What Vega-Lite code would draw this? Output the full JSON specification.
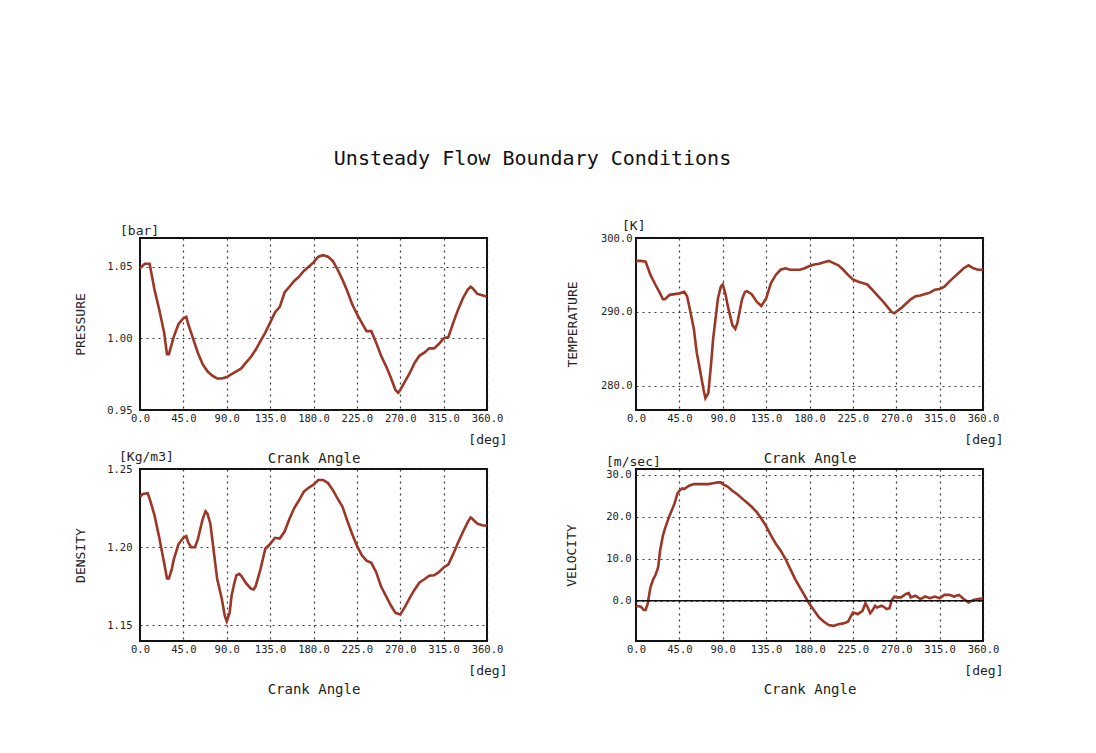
{
  "$schema": "https://vega.github.io/schema/vega-lite/v6.json",
  "background": "white",
  "padding": {"left": 73, "top": 149, "right": 10, "bottom": 10},
  "title": {"text": "Unsteady Flow Boundary Conditions", "fontSize": 20, "font": "DejaVu Sans Mono", "fontWeight": "normal", "color": "#111", "anchor": "middle", "offset": 50, "dx": -6},
  "datasets": {
    "pressure": [
      {"a":0,"v":1.049},{"a":5,"v":1.052},{"a":10,"v":1.052},{"a":15,"v":1.034},{"a":20,"v":1.020},{"a":25,"v":1.004},{"a":28,"v":0.989},{"a":30,"v":0.989},{"a":35,"v":1.001},{"a":40,"v":1.010},{"a":45,"v":1.014},{"a":48,"v":1.015},{"a":50,"v":1.010},{"a":55,"v":1.000},{"a":60,"v":0.990},{"a":65,"v":0.982},{"a":70,"v":0.977},{"a":75,"v":0.974},{"a":80,"v":0.972},{"a":85,"v":0.972},{"a":90,"v":0.973},{"a":95,"v":0.975},{"a":100,"v":0.977},{"a":105,"v":0.979},{"a":110,"v":0.983},{"a":115,"v":0.987},{"a":120,"v":0.992},{"a":125,"v":0.998},{"a":130,"v":1.004},{"a":135,"v":1.011},{"a":140,"v":1.018},{"a":145,"v":1.022},{"a":150,"v":1.032},{"a":155,"v":1.036},{"a":160,"v":1.040},{"a":165,"v":1.043},{"a":170,"v":1.047},{"a":175,"v":1.050},{"a":180,"v":1.053},{"a":185,"v":1.057},{"a":190,"v":1.058},{"a":195,"v":1.057},{"a":200,"v":1.054},{"a":205,"v":1.048},{"a":210,"v":1.041},{"a":215,"v":1.033},{"a":220,"v":1.024},{"a":225,"v":1.017},{"a":230,"v":1.011},{"a":235,"v":1.005},{"a":240,"v":1.005},{"a":245,"v":0.997},{"a":250,"v":0.988},{"a":255,"v":0.981},{"a":260,"v":0.973},{"a":265,"v":0.964},{"a":268,"v":0.962},{"a":270,"v":0.964},{"a":275,"v":0.970},{"a":280,"v":0.976},{"a":285,"v":0.983},{"a":290,"v":0.988},{"a":295,"v":0.990},{"a":300,"v":0.993},{"a":305,"v":0.993},{"a":310,"v":0.996},{"a":315,"v":1.000},{"a":320,"v":1.001},{"a":325,"v":1.011},{"a":330,"v":1.020},{"a":335,"v":1.028},{"a":340,"v":1.034},{"a":343,"v":1.036},{"a":345,"v":1.035},{"a":350,"v":1.031},{"a":355,"v":1.030},{"a":360,"v":1.029}
    ],
    "temperature": [
      {"a":0,"v":296.9},{"a":5,"v":296.9},{"a":10,"v":296.8},{"a":15,"v":295.0},{"a":20,"v":293.7},{"a":25,"v":292.5},{"a":28,"v":291.7},{"a":30,"v":291.7},{"a":35,"v":292.3},{"a":40,"v":292.4},{"a":45,"v":292.5},{"a":50,"v":292.7},{"a":53,"v":292.1},{"a":55,"v":290.9},{"a":60,"v":287.7},{"a":63,"v":284.5},{"a":65,"v":283.1},{"a":70,"v":279.5},{"a":72,"v":278.3},{"a":75,"v":279.0},{"a":78,"v":283.1},{"a":80,"v":286.3},{"a":85,"v":291.8},{"a":88,"v":293.4},{"a":90,"v":293.7},{"a":93,"v":292.3},{"a":95,"v":290.9},{"a":100,"v":288.2},{"a":103,"v":287.7},{"a":105,"v":288.4},{"a":110,"v":291.7},{"a":113,"v":292.7},{"a":115,"v":292.8},{"a":120,"v":292.4},{"a":125,"v":291.4},{"a":130,"v":290.8},{"a":135,"v":291.8},{"a":140,"v":293.9},{"a":145,"v":295.0},{"a":150,"v":295.7},{"a":155,"v":295.9},{"a":160,"v":295.7},{"a":165,"v":295.7},{"a":170,"v":295.7},{"a":175,"v":295.9},{"a":180,"v":296.2},{"a":185,"v":296.4},{"a":190,"v":296.5},{"a":195,"v":296.7},{"a":200,"v":296.9},{"a":205,"v":296.6},{"a":210,"v":296.3},{"a":215,"v":295.7},{"a":220,"v":295.0},{"a":225,"v":294.4},{"a":230,"v":294.1},{"a":235,"v":293.9},{"a":240,"v":293.7},{"a":245,"v":293.0},{"a":250,"v":292.3},{"a":255,"v":291.6},{"a":260,"v":290.8},{"a":265,"v":290.0},{"a":268,"v":289.8},{"a":270,"v":290.0},{"a":275,"v":290.5},{"a":280,"v":291.1},{"a":285,"v":291.7},{"a":290,"v":292.1},{"a":295,"v":292.2},{"a":300,"v":292.4},{"a":305,"v":292.6},{"a":310,"v":293.0},{"a":315,"v":293.1},{"a":320,"v":293.4},{"a":325,"v":294.1},{"a":330,"v":294.7},{"a":335,"v":295.3},{"a":340,"v":295.9},{"a":345,"v":296.3},{"a":350,"v":295.9},{"a":355,"v":295.7},{"a":360,"v":295.7}
    ],
    "density": [
      {"a":0,"v":1.2323},{"a":3,"v":1.234},{"a":8,"v":1.2345},{"a":10,"v":1.231},{"a":15,"v":1.2205},{"a":20,"v":1.206},{"a":25,"v":1.190},{"a":28,"v":1.180},{"a":30,"v":1.180},{"a":33,"v":1.186},{"a":35,"v":1.192},{"a":40,"v":1.202},{"a":45,"v":1.206},{"a":48,"v":1.207},{"a":50,"v":1.203},{"a":53,"v":1.200},{"a":57,"v":1.200},{"a":60,"v":1.205},{"a":65,"v":1.218},{"a":68,"v":1.223},{"a":70,"v":1.2215},{"a":73,"v":1.215},{"a":75,"v":1.205},{"a":78,"v":1.190},{"a":80,"v":1.180},{"a":85,"v":1.1666},{"a":88,"v":1.156},{"a":90,"v":1.1526},{"a":93,"v":1.158},{"a":95,"v":1.169},{"a":98,"v":1.1774},{"a":100,"v":1.182},{"a":103,"v":1.183},{"a":105,"v":1.1817},{"a":110,"v":1.177},{"a":115,"v":1.1735},{"a":118,"v":1.173},{"a":120,"v":1.175},{"a":125,"v":1.186},{"a":130,"v":1.199},{"a":135,"v":1.202},{"a":140,"v":1.206},{"a":145,"v":1.2055},{"a":150,"v":1.210},{"a":155,"v":1.218},{"a":160,"v":1.225},{"a":165,"v":1.230},{"a":170,"v":1.2356},{"a":175,"v":1.238},{"a":180,"v":1.240},{"a":185,"v":1.243},{"a":190,"v":1.243},{"a":195,"v":1.241},{"a":200,"v":1.2366},{"a":205,"v":1.231},{"a":210,"v":1.226},{"a":215,"v":1.217},{"a":220,"v":1.2086},{"a":225,"v":1.201},{"a":230,"v":1.195},{"a":235,"v":1.1914},{"a":240,"v":1.190},{"a":245,"v":1.184},{"a":250,"v":1.175},{"a":255,"v":1.169},{"a":260,"v":1.163},{"a":265,"v":1.158},{"a":270,"v":1.157},{"a":275,"v":1.162},{"a":280,"v":1.1677},{"a":285,"v":1.173},{"a":290,"v":1.1774},{"a":295,"v":1.1795},{"a":300,"v":1.1817},{"a":305,"v":1.182},{"a":310,"v":1.184},{"a":315,"v":1.187},{"a":320,"v":1.189},{"a":325,"v":1.1957},{"a":330,"v":1.203},{"a":335,"v":1.2097},{"a":340,"v":1.216},{"a":343,"v":1.219},{"a":345,"v":1.218},{"a":350,"v":1.215},{"a":355,"v":1.214},{"a":360,"v":1.2136}
    ],
    "velocity": [
      {"a":0,"v":-1.2},{"a":5,"v":-1.4},{"a":8,"v":-2.2},{"a":10,"v":-2.2},{"a":12,"v":-0.8},{"a":15,"v":3.2},{"a":18,"v":5.2},{"a":20,"v":6.0},{"a":23,"v":8.0},{"a":25,"v":12.0},{"a":28,"v":15.6},{"a":30,"v":17.2},{"a":35,"v":20.4},{"a":40,"v":23.2},{"a":43,"v":25.6},{"a":45,"v":26.2},{"a":48,"v":26.8},{"a":50,"v":26.6},{"a":55,"v":27.4},{"a":60,"v":27.8},{"a":65,"v":27.8},{"a":70,"v":27.8},{"a":75,"v":27.8},{"a":80,"v":28.0},{"a":85,"v":28.2},{"a":88,"v":28.2},{"a":90,"v":27.8},{"a":95,"v":27.2},{"a":100,"v":26.2},{"a":105,"v":25.4},{"a":110,"v":24.4},{"a":115,"v":23.4},{"a":120,"v":22.4},{"a":125,"v":21.2},{"a":130,"v":19.6},{"a":135,"v":17.8},{"a":140,"v":15.6},{"a":145,"v":13.6},{"a":150,"v":12.0},{"a":155,"v":10.0},{"a":160,"v":7.6},{"a":165,"v":5.2},{"a":170,"v":3.2},{"a":175,"v":1.2},{"a":180,"v":-0.8},{"a":185,"v":-2.4},{"a":190,"v":-4.0},{"a":195,"v":-5.0},{"a":200,"v":-5.8},{"a":205,"v":-6.0},{"a":210,"v":-5.6},{"a":215,"v":-5.4},{"a":220,"v":-5.0},{"a":225,"v":-2.8},{"a":228,"v":-3.0},{"a":230,"v":-3.2},{"a":235,"v":-2.4},{"a":238,"v":-0.6},{"a":240,"v":-1.4},{"a":243,"v":-3.0},{"a":245,"v":-2.4},{"a":248,"v":-1.2},{"a":250,"v":-1.6},{"a":255,"v":-1.2},{"a":258,"v":-1.6},{"a":260,"v":-2.0},{"a":263,"v":-1.8},{"a":265,"v":0.0},{"a":268,"v":1.0},{"a":270,"v":0.8},{"a":275,"v":0.8},{"a":280,"v":1.6},{"a":283,"v":1.8},{"a":285,"v":0.8},{"a":290,"v":1.2},{"a":295,"v":0.4},{"a":300,"v":1.0},{"a":305,"v":0.6},{"a":310,"v":1.0},{"a":315,"v":0.6},{"a":320,"v":1.4},{"a":325,"v":1.4},{"a":330,"v":1.0},{"a":335,"v":1.4},{"a":340,"v":0.4},{"a":345,"v":-0.4},{"a":350,"v":0.2},{"a":355,"v":0.4},{"a":360,"v":0.6}
    ],
    "degmark": [{"a": 360}],
    "zero": [{"z": 0}]
  },
  "concat": [
    {
      "width": 347, "height": 172,
      "title": {"text": "[bar]", "anchor": "start", "frame": "group", "dx": -20, "offset": 0},
      "layer": [
        {
          "data": {"name": "pressure"},
          "mark": {"type": "line", "color": "#9c3626", "strokeWidth": 2.6},
          "encoding": {
            "x": {"field": "a", "type": "quantitative", "scale": {"domain": [0, 360], "nice": false}, "axis": {"values": [0,45,90,135,180,225,270,315,360], "format": ".1f", "labelFlush": false, "title": "Crank Angle", "titleFontSize": 14, "titleY": 48, "titleBaseline": "middle"}},
            "y": {"field": "v", "type": "quantitative", "scale": {"domain": [0.95, 1.07], "nice": false, "zero": false}, "axis": {"values": [0.95, 1.0, 1.05], "format": ".2f", "title": "PRESSURE", "titleX": -60, "titleBaseline": "middle", "labelPadding": 8}}
          }
        },
        {
          "data": {"name": "degmark"},
          "mark": {"type": "rule", "opacity": 0},
          "encoding": {
            "x": {"field": "a", "type": "quantitative", "axis": {"orient": "bottom", "grid": false, "labels": false, "title": "[deg]", "titleX": 367, "titleY": 29, "titleAlign": "right", "titleBaseline": "middle"}}
          }
        }
      ],
      "resolve": {"axis": {"x": "independent"}}
    },
    {
      "width": 347, "height": 172,
      "title": {"text": "[K]", "anchor": "start", "frame": "group", "dx": -14, "offset": 0},
      "layer": [
        {
          "data": {"name": "temperature"},
          "mark": {"type": "line", "color": "#9c3626", "strokeWidth": 2.6},
          "encoding": {
            "x": {"field": "a", "type": "quantitative", "scale": {"domain": [0, 360], "nice": false}, "axis": {"values": [0,45,90,135,180,225,270,315,360], "format": ".1f", "labelFlush": false, "title": "Crank Angle", "titleFontSize": 14, "titleY": 48, "titleBaseline": "middle"}},
            "y": {"field": "v", "type": "quantitative", "scale": {"domain": [276.7, 300], "nice": false, "zero": false}, "axis": {"values": [280, 290, 300], "format": ".1f", "title": "TEMPERATURE", "titleX": -64, "titleBaseline": "middle", "labelPadding": 4}}
          }
        },
        {
          "data": {"name": "degmark"},
          "mark": {"type": "rule", "opacity": 0},
          "encoding": {
            "x": {"field": "a", "type": "quantitative", "axis": {"orient": "bottom", "grid": false, "labels": false, "title": "[deg]", "titleX": 367, "titleY": 29, "titleAlign": "right", "titleBaseline": "middle"}}
          }
        }
      ],
      "resolve": {"axis": {"x": "independent"}}
    },
    {
      "width": 347, "height": 172,
      "title": {"text": "[Kg/m3]", "anchor": "start", "frame": "group", "dx": -21, "offset": 0},
      "layer": [
        {
          "data": {"name": "density"},
          "mark": {"type": "line", "color": "#9c3626", "strokeWidth": 2.6},
          "encoding": {
            "x": {"field": "a", "type": "quantitative", "scale": {"domain": [0, 360], "nice": false}, "axis": {"values": [0,45,90,135,180,225,270,315,360], "format": ".1f", "labelFlush": false, "title": "Crank Angle", "titleFontSize": 14, "titleY": 48, "titleBaseline": "middle"}},
            "y": {"field": "v", "type": "quantitative", "scale": {"domain": [1.14, 1.25], "nice": false, "zero": false}, "axis": {"values": [1.15, 1.2, 1.25], "format": ".2f", "title": "DENSITY", "titleX": -60, "titleBaseline": "middle", "labelPadding": 8}}
          }
        },
        {
          "data": {"name": "degmark"},
          "mark": {"type": "rule", "opacity": 0},
          "encoding": {
            "x": {"field": "a", "type": "quantitative", "axis": {"orient": "bottom", "grid": false, "labels": false, "title": "[deg]", "titleX": 367, "titleY": 29, "titleAlign": "right", "titleBaseline": "middle"}}
          }
        }
      ],
      "resolve": {"axis": {"x": "independent"}}
    },
    {
      "width": 347, "height": 172,
      "title": {"text": "[m/sec]", "anchor": "start", "frame": "group", "dx": -30, "offset": 0},
      "layer": [
        {
          "data": {"name": "velocity"},
          "mark": {"type": "line", "color": "#9c3626", "strokeWidth": 2.6},
          "encoding": {
            "x": {"field": "a", "type": "quantitative", "scale": {"domain": [0, 360], "nice": false}, "axis": {"values": [0,45,90,135,180,225,270,315,360], "format": ".1f", "labelFlush": false, "title": "Crank Angle", "titleFontSize": 14, "titleY": 48, "titleBaseline": "middle"}},
            "y": {"field": "v", "type": "quantitative", "scale": {"domain": [-9.6, 31.4], "nice": false, "zero": false}, "axis": {"values": [0, 10, 20, 30], "format": ".1f", "title": "VELOCITY", "titleX": -65, "titleBaseline": "middle", "labelPadding": 5}}
          }
        },
        {
          "data": {"name": "zero"},
          "mark": {"type": "rule", "color": "#111", "strokeWidth": 1.5},
          "encoding": {"y": {"field": "z", "type": "quantitative"}}
        },
        {
          "data": {"name": "degmark"},
          "mark": {"type": "rule", "opacity": 0},
          "encoding": {
            "x": {"field": "a", "type": "quantitative", "axis": {"orient": "bottom", "grid": false, "labels": false, "title": "[deg]", "titleX": 367, "titleY": 29, "titleAlign": "right", "titleBaseline": "middle"}}
          }
        }
      ],
      "resolve": {"axis": {"x": "independent"}}
    }
  ],
  "columns": 2,
  "spacing": {"row": 59, "column": 149},
  "bounds": "flush",
  "config": {
    "font": "DejaVu Sans Mono",
    "view": {"stroke": "#111", "strokeWidth": 2},
    "axis": {
      "domain": false, "ticks": false, "grid": true, "labelOverlap": false,
      "gridColor": "#222", "gridDash": [2, 4], "gridWidth": 1.2, "gridOpacity": 0.9,
      "labelFont": "DejaVu Sans Mono", "labelFontSize": 10.5, "labelColor": "#222", "labelPadding": 3,
      "titleFont": "DejaVu Sans Mono", "titleFontSize": 13, "titleFontWeight": "normal", "titleColor": "#222"
    },
    "title": {"font": "DejaVu Sans Mono", "fontSize": 13, "fontWeight": "normal", "color": "#222"}
  }
}
